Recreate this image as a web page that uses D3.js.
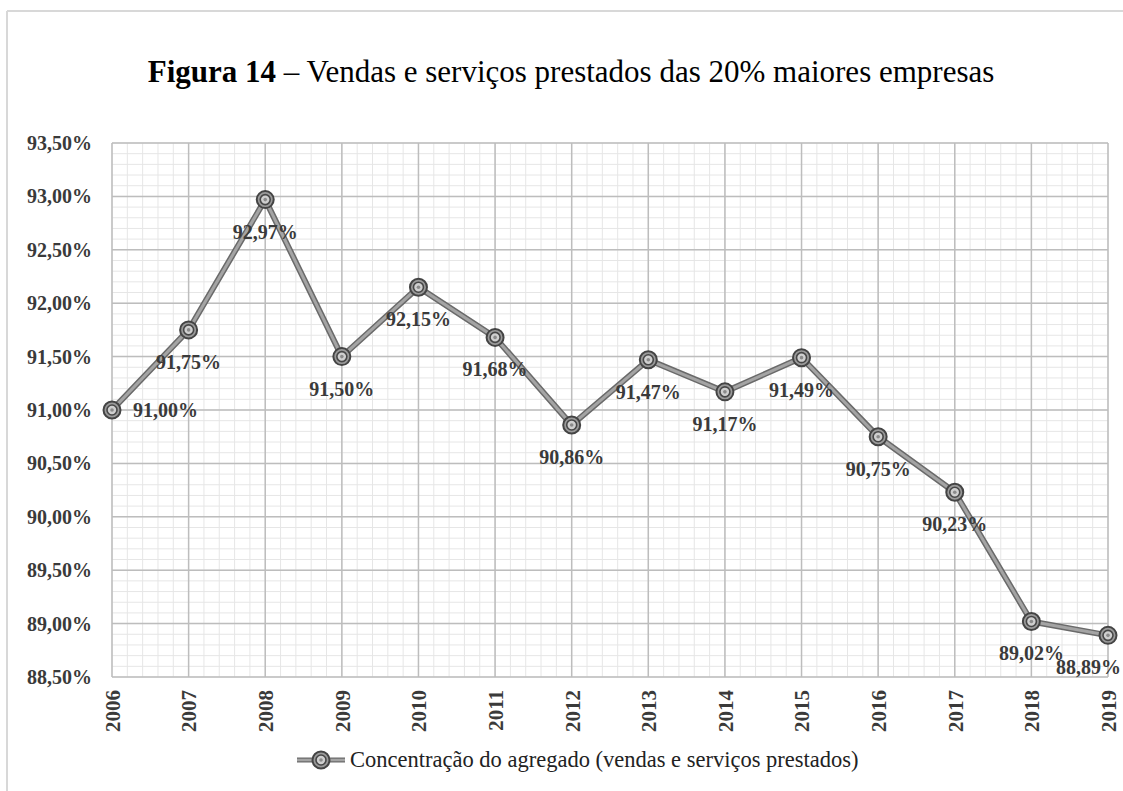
<!DOCTYPE html>
<html><head><meta charset="utf-8">
<script src="https://cdn.jsdelivr.net/npm/d3@7"></script>
<style>
body{margin:0;background:#fff}
svg{display:block}
text{font-family:"Liberation Serif","Times New Roman",serif}
</style>
</head><body>
<svg id="chart" width="1123" height="791"></svg>
<script>
// ---- data ----
const years = ["2006","2007","2008","2009","2010","2011","2012","2013","2014","2015","2016","2017","2018","2019"];
const values = [91.00, 91.75, 92.97, 91.50, 92.15, 91.68, 90.86, 91.47, 91.17, 91.49, 90.75, 90.23, 89.02, 88.89];
const yTicks = [88.5, 89.0, 89.5, 90.0, 90.5, 91.0, 91.5, 92.0, 92.5, 93.0, 93.5];
const labelPlacement = ["right","below","below","below","below","below","below","below","below","below","below","below","below","belowLeft"];
const seriesName = "Concentração do agregado (vendas e serviços prestados)";
const titleBold = "Figura 14";
const titleRest = " – Vendas e serviços prestados das 20% maiores empresas";

// ---- layout ----
const W = 1123, H = 791;
const plot = {left: 112, right: 1108, top: 143, bottom: 677};
const svg = d3.select("#chart");
const pct = v => d3.format(".2f")(v).replace(".", ",") + "%";

// outer frame
svg.append("line").attr("x1", 7).attr("x2", W).attr("y1", 11).attr("y2", 11)
  .attr("stroke", "#d8d8d8").attr("stroke-width", 2);
svg.append("line").attr("x1", 7).attr("x2", 7).attr("y1", 11).attr("y2", H)
  .attr("stroke", "#d8d8d8").attr("stroke-width", 2);

// title
const title = svg.append("text").attr("x", 571).attr("y", 82)
  .attr("text-anchor", "middle").attr("font-size", 31).attr("fill", "#000");
title.append("tspan").attr("font-weight", "bold").text(titleBold);
title.append("tspan").text(titleRest);

// scales
const x = d3.scalePoint().domain(years).range([plot.left, plot.right]);
const xi = d3.scaleLinear().domain([0, years.length - 1]).range([plot.left, plot.right]);
const y = d3.scaleLinear().domain([d3.min(yTicks), d3.max(yTicks)]).range([plot.bottom, plot.top]);

// minor grid
const g = svg.append("g");
g.selectAll(".mh").data(d3.range(0, 51).map(i => 88.5 + i * 0.1)).join("line")
  .attr("x1", plot.left).attr("x2", plot.right)
  .attr("y1", d => y(d)).attr("y2", d => y(d))
  .attr("stroke", "#e6e6e6").attr("stroke-width", 1);
g.selectAll(".mv").data(d3.range(0, (years.length - 1) * 5 + 1).map(i => i / 5)).join("line")
  .attr("x1", d => xi(d)).attr("x2", d => xi(d))
  .attr("y1", plot.top).attr("y2", plot.bottom)
  .attr("stroke", "#e6e6e6").attr("stroke-width", 1);
// major grid
g.selectAll(".Mh").data(yTicks).join("line")
  .attr("x1", plot.left).attr("x2", plot.right)
  .attr("y1", d => y(d)).attr("y2", d => y(d))
  .attr("stroke", "#bdbdbd").attr("stroke-width", 1.5);
g.selectAll(".Mv").data(years).join("line")
  .attr("x1", d => x(d)).attr("x2", d => x(d))
  .attr("y1", plot.top).attr("y2", plot.bottom)
  .attr("stroke", "#bdbdbd").attr("stroke-width", 1.5);

// y axis
const yAxis = svg.append("g").attr("transform", `translate(${plot.left},0)`)
  .call(d3.axisLeft(y).tickValues(yTicks).tickSize(0).tickPadding(20).tickFormat(pct));
yAxis.select(".domain").remove();
yAxis.selectAll("text").attr("font-size", 20).attr("font-weight", "bold")
  .attr("fill", "#3a3a3a").style("font-family", '"Liberation Serif",serif');

// x axis
const xAxis = svg.append("g").attr("transform", `translate(0,${plot.bottom})`)
  .call(d3.axisBottom(x).tickSize(0));
xAxis.select(".domain").remove();
xAxis.selectAll("text")
  .attr("transform", "rotate(-90)")
  .attr("x", -13).attr("y", 0).attr("dy", "0.35em")
  .attr("text-anchor", "end")
  .attr("font-size", 21).attr("font-weight", "bold")
  .attr("fill", "#3a3a3a").style("font-family", '"Liberation Serif",serif');

// series
const data = years.map((yr, i) => ({year: yr, value: values[i], place: labelPlacement[i]}));
const line = d3.line().x(d => x(d.year)).y(d => y(d.value));
svg.append("path").datum(data).attr("d", line).attr("fill", "none")
  .attr("stroke", "#6a6a6a").attr("stroke-width", 6).attr("stroke-linejoin", "round");
svg.append("path").datum(data).attr("d", line).attr("fill", "none")
  .attr("stroke", "#a4a4a4").attr("stroke-width", 3).attr("stroke-linejoin", "round");

function marker(sel) {
  sel.append("circle").attr("r", 8.5).attr("fill", "#9a9a9a").attr("stroke", "#444").attr("stroke-width", 2);
  sel.append("circle").attr("r", 5).attr("fill", "#cfcfcf").attr("stroke", "#474747").attr("stroke-width", 1.6);
  sel.append("circle").attr("r", 1.8).attr("fill", "#8a8a8a");
}
svg.selectAll(".pt").data(data).join("g")
  .attr("transform", d => `translate(${x(d.year)},${y(d.value)})`)
  .call(marker);

// data labels
const lx = d => d.place === "right" ? x(d.year) + 21 : d.place === "belowLeft" ? x(d.year) + 13 : x(d.year);
const ly = d => d.place === "right" ? y(d.value) : y(d.value) + 32;
const la = d => d.place === "right" ? "start" : d.place === "belowLeft" ? "end" : "middle";
svg.selectAll(".lbl").data(data).join("text")
  .attr("x", lx).attr("y", ly)
  .attr("dy", "0.35em")
  .attr("text-anchor", la)
  .attr("font-size", 20).attr("font-weight", "bold").attr("fill", "#3a3a3a")
  .text(d => pct(d.value));

// legend
const lg = svg.append("g");
lg.append("line").attr("x1", 297).attr("x2", 345).attr("y1", 760).attr("y2", 760)
  .attr("stroke", "#6a6a6a").attr("stroke-width", 5);
lg.append("line").attr("x1", 297).attr("x2", 345).attr("y1", 760).attr("y2", 760)
  .attr("stroke", "#a4a4a4").attr("stroke-width", 2.5);
lg.append("g").attr("transform", "translate(321,760)").call(marker);
lg.append("text").attr("x", 350).attr("y", 767).attr("font-size", 22.5)
  .attr("fill", "#222").text(seriesName);
</script>
</body></html>
